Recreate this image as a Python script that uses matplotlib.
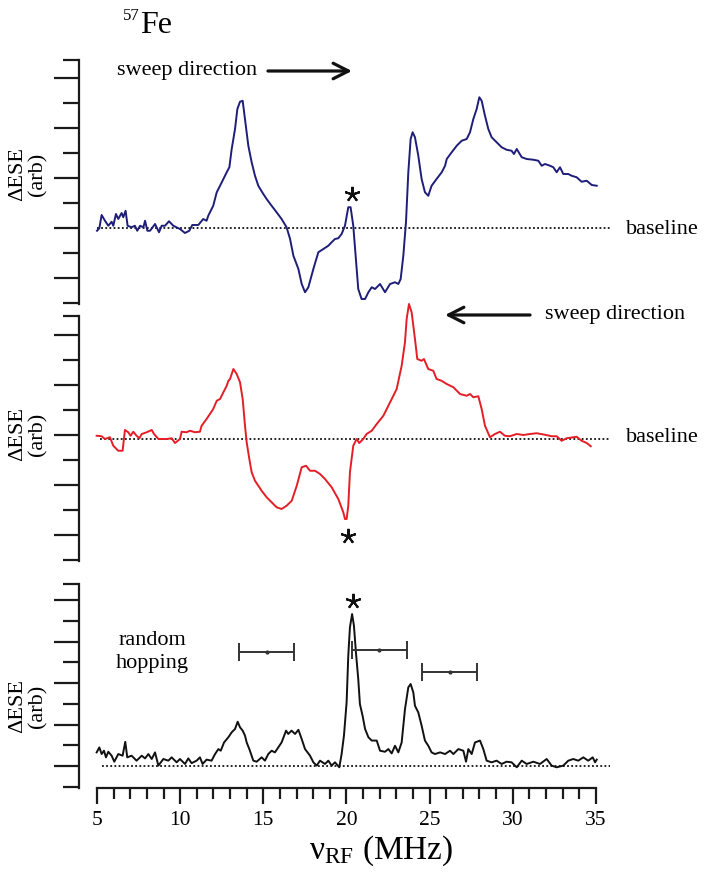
import matplotlib
matplotlib.use('Agg')
import matplotlib.pyplot as plt

plt.rcParams['font.family'] = ['Liberation Serif', 'DejaVu Serif']
plt.rcParams['mathtext.fontset'] = 'custom'
plt.rcParams['mathtext.rm'] = 'Liberation Serif'
plt.rcParams['mathtext.it'] = 'Liberation Serif:italic'

# ---------------- data (MHz, arbitrary units) ----------------
p1_x = [5.00, 5.14, 5.28, 5.48, 5.68, 5.88, 5.98, 6.14, 6.28, 6.48,
        6.58, 6.72, 6.84, 7.08, 7.28, 7.42, 7.59, 7.79, 7.89, 8.03,
        8.19, 8.49, 8.73, 8.89, 9.09, 9.33, 9.59, 9.99, 10.29, 10.55,
        10.73, 11.09, 11.39, 11.59, 11.69, 11.99, 12.20, 12.40, 12.60, 12.80,
        12.96, 13.10, 13.30, 13.44, 13.60, 13.76, 13.90, 14.10, 14.30, 14.50,
        14.70, 15.00, 15.20, 15.50, 15.80, 16.10, 16.40, 16.61, 16.81, 17.11,
        17.31, 17.51, 17.71, 18.01, 18.31, 18.61, 18.91, 19.11, 19.31, 19.51,
        19.71, 19.91, 20.11, 20.25, 20.41, 20.55, 20.71, 20.91, 21.12, 21.32,
        21.52, 21.72, 22.02, 22.32, 22.62, 22.92, 23.12, 23.26, 23.42, 23.58,
        23.72, 23.86, 23.98, 24.12, 24.32, 24.52, 24.72, 24.92, 25.12, 25.42,
        25.73, 25.93, 26.03, 26.33, 26.63, 26.93, 27.23, 27.43, 27.63, 27.83,
        27.99, 28.13, 28.33, 28.53, 28.73, 29.03, 29.33, 29.63, 29.93, 30.07,
        30.24, 30.54, 30.84, 31.24, 31.54, 31.74, 31.94, 32.24, 32.44, 32.64,
        32.84, 33.04, 33.34, 33.54, 33.84, 34.14, 34.45, 34.75, 35.05]
p1_y = [-0.11, -0.01, 0.52, 0.29, 0.09, 0.25, 0.09, 0.56, 0.36, 0.60,
        0.43, 0.69, 0.09, 0.03, 0.09, -0.11, 0.09, 0.03, 0.29, -0.11,
        -0.11, 0.16, -0.17, 0.09, 0.09, 0.27, 0.09, -0.04, -0.20, -0.11,
        0.12, 0.12, 0.36, 0.29, 0.49, 0.89, 1.43, 1.69, 1.96, 2.23,
        2.43, 3.16, 3.96, 4.76, 5.05, 5.09, 4.36, 3.29, 2.63, 2.09,
        1.69, 1.36, 1.16, 0.89, 0.63, 0.36, 0.03, -0.44, -1.11, -1.64,
        -2.24, -2.57, -2.37, -1.64, -0.97, -0.84, -0.71, -0.57, -0.44, -0.41,
        -0.24, 0.09, 0.83, 0.83, 0.09, -1.11, -2.44, -2.84, -2.84, -2.57,
        -2.37, -2.44, -2.24, -2.57, -2.24, -2.17, -2.24, -2.04, -1.11, 0.23,
        2.23, 3.56, 3.83, 3.63, 2.89, 1.96, 1.43, 1.29, 1.69, 1.96,
        2.23, 2.49, 2.76, 3.03, 3.29, 3.49, 3.56, 3.83, 4.36, 4.76,
        5.23, 5.09, 4.49, 3.96, 3.63, 3.43, 3.23, 3.13, 3.09, 2.96,
        3.16, 2.83, 2.76, 2.73, 2.69, 2.49, 2.56, 2.49, 2.43, 2.23,
        2.43, 2.16, 2.16, 2.09, 2.03, 1.85, 1.89, 1.72, 1.69]

p2_x = [4.98, 5.28, 5.48, 5.78, 5.98, 6.28, 6.54, 6.68, 6.88, 7.02,
        7.18, 7.38, 7.55, 7.69, 7.99, 8.29, 8.43, 8.69, 9.19, 9.49,
        9.69, 9.99, 10.09, 10.39, 10.59, 10.89, 11.19, 11.29, 11.59, 11.99,
        12.20, 12.40, 12.60, 12.80, 12.90, 13.00, 13.20, 13.40, 13.60, 13.76,
        13.90, 14.00, 14.16, 14.30, 14.50, 14.70, 14.90, 15.20, 15.50, 15.80,
        16.10, 16.40, 16.71, 17.01, 17.31, 17.57, 17.81, 18.11, 18.41, 18.71,
        19.11, 19.51, 19.81, 19.91, 20.01, 20.11, 20.21, 20.41, 20.61, 20.77,
        21.01, 21.21, 21.52, 21.82, 22.22, 22.52, 22.82, 23.02, 23.32, 23.52,
        23.62, 23.76, 23.92, 24.12, 24.26, 24.52, 24.66, 24.92, 25.22, 25.42,
        25.72, 26.03, 26.43, 26.83, 27.23, 27.43, 27.63, 27.93, 28.13, 28.33,
        28.63, 28.93, 29.23, 29.53, 29.83, 30.24, 30.64, 31.04, 31.44, 31.94,
        32.34, 32.64, 32.94, 33.24, 33.84, 34.14, 34.45, 34.69]
p2_y = [-0.03, -0.05, -0.16, -0.09, -0.43, -0.63, -0.63, 0.20, 0.11, -0.03,
        0.13, -0.03, -0.13, 0.04, 0.11, 0.20, 0.04, -0.16, -0.16, -0.13,
        -0.32, -0.16, 0.13, 0.11, 0.17, 0.11, 0.13, 0.37, 0.64, 1.04,
        1.37, 1.44, 1.71, 1.97, 2.17, 2.24, 2.64, 2.44, 2.11, 1.44,
        0.37, -0.29, -0.96, -1.49, -1.83, -2.03, -2.23, -2.49, -2.69, -2.89,
        -2.96, -2.83, -2.63, -2.03, -1.29, -1.23, -1.43, -1.43, -1.56, -1.76,
        -2.09, -2.56, -3.09, -3.36, -3.36, -2.83, -1.49, -0.43, -0.16, -0.32,
        -0.16, 0.04, 0.17, 0.44, 0.77, 1.17, 1.57, 1.84, 2.77, 3.71,
        4.64, 5.24, 4.91, 3.84, 3.04, 2.97, 3.04, 2.64, 2.57, 2.24,
        2.17, 2.04, 1.91, 1.64, 1.57, 1.64, 1.51, 1.55, 1.04, 0.37,
        -0.09, 0.04, 0.13, -0.03, -0.05, 0.04, 0.00, 0.04, 0.07, 0.01,
        -0.05, -0.05, -0.23, -0.13, -0.07, -0.23, -0.32, -0.45]

p3_x = [4.98, 5.14, 5.28, 5.42, 5.54, 5.68, 5.88, 6.04, 6.28, 6.54,
        6.70, 6.82, 7.08, 7.38, 7.69, 7.89, 8.09, 8.29, 8.49, 8.69,
        8.99, 9.29, 9.49, 9.79, 9.99, 10.29, 10.49, 10.69, 10.99, 11.19,
        11.35, 11.59, 11.89, 12.10, 12.30, 12.44, 12.64, 12.90, 13.10, 13.30,
        13.46, 13.60, 13.76, 13.90, 14.00, 14.16, 14.40, 14.60, 14.90, 15.10,
        15.30, 15.50, 15.70, 15.90, 16.10, 16.37, 16.50, 16.70, 16.91, 17.11,
        17.31, 17.51, 17.81, 18.01, 18.21, 18.41, 18.71, 18.91, 19.11, 19.31,
        19.57, 19.71, 19.85, 20.01, 20.11, 20.21, 20.34, 20.45, 20.57, 20.71,
        20.81, 20.97, 21.12, 21.32, 21.52, 21.82, 22.02, 22.32, 22.52, 22.72,
        22.92, 23.12, 23.32, 23.52, 23.72, 23.86, 24.02, 24.12, 24.32, 24.52,
        24.72, 24.92, 25.12, 25.32, 25.63, 25.93, 26.23, 26.43, 26.73, 27.03,
        27.19, 27.33, 27.53, 27.73, 28.03, 28.23, 28.43, 28.73, 29.03, 29.33,
        29.63, 29.93, 30.24, 30.54, 30.84, 31.24, 31.64, 32.04, 32.34, 32.64,
        33.04, 33.34, 33.64, 33.94, 34.24, 34.54, 34.81, 34.95, 35.05]
p3_y = [0.66, 0.90, 0.58, 0.74, 0.42, 0.69, 0.50, 0.21, 0.58, 0.50,
        1.17, 0.42, 0.50, 0.26, 0.50, 0.37, 0.58, 0.34, 0.66, 0.02,
        0.34, 0.26, 0.42, 0.18, 0.34, 0.10, 0.37, 0.14, 0.26, 0.42,
        0.10, 0.31, 0.26, 0.58, 0.82, 0.74, 1.14, 1.39, 1.63, 1.79,
        2.14, 1.87, 1.71, 1.47, 1.14, 0.82, 0.26, 0.21, 0.42, 0.26,
        0.58, 0.74, 0.66, 0.90, 1.14, 1.71, 1.55, 1.71, 1.55, 1.75,
        1.30, 0.82, 0.50, 0.18, 0.02, 0.26, 0.10, 0.26, 0.02, 0.18,
        -0.06, 0.58, 1.47, 3.08, 5.33, 6.70, 7.34, 6.78, 5.49, 4.20,
        2.99, 2.43, 1.79, 1.39, 1.23, 1.23, 0.74, 0.69, 0.82, 0.61,
        0.98, 0.66, 1.14, 2.75, 3.80, 3.96, 3.56, 2.91, 2.59, 1.95,
        1.23, 0.98, 0.66, 0.58, 0.66, 0.58, 0.74, 0.58, 0.82, 0.74,
        0.21, 0.82, 0.58, 1.14, 1.23, 0.82, 0.26, 0.18, 0.26, 0.10,
        0.21, 0.18, -0.06, 0.26, 0.10, 0.21, 0.10, 0.34, 0.02, -0.06,
        0.02, 0.26, 0.34, 0.26, 0.42, 0.26, 0.42, 0.18, 0.31]

# random-hopping ranges (center, half width, height) in panel 3
hop_x = [15.20, 21.98, 26.20]
hop_err = [1.65, 1.65, 1.65]
hop_y = [5.51, 5.60, 4.54]

# baselines (level, start) for each panel
base_levels = [0.0, -0.16, 0.0]
base_starts = [5.0, 5.2, 5.28]
base_end = 35.85

# asterisk positions (x, y) per panel
star_pos = [(20.31, 1.36), (20.11, -4.03), (20.41, 7.99)]

x_major = [5, 10, 15, 20, 25, 30, 35]
x_minor = list(range(5, 36))

colors = ['#1e1e78', '#e41e26', '#111111']

# ---------------- figure ----------------
W, H = 704, 878
fig = plt.figure(figsize=(W / 100, H / 100), dpi=100)


def box(top, bottom, left=79, right=612):
    return [left / W, 1 - bottom / H, (right - left) / W, (bottom - top) / H]


def fx(x):
    return x / W


def fy(y):
    return 1 - y / H


ax1 = fig.add_axes(box(61, 305))
ax2 = fig.add_axes(box(317, 562))
ax3 = fig.add_axes(box(585, 789))
axes = [ax1, ax2, ax3]

specs = [
    ((-3.04, 6.72), [-2, 0, 2, 4, 6], [-3, -1, 1, 3, 5, 6.72]),
    ((-5.04, 4.76), [-4, -2, 0, 2, 4], [-5, -3, -1, 1, 3, 4.76]),
    ((-1.06, 8.79), [0, 2, 4, 6, 8], [-1, 1, 3, 5, 7, 8.79]),
]

XLIM = (3.918, 35.968)

for ax, (ylim, majors, minors) in zip(axes, specs):
    ax.set_xlim(*XLIM)
    ax.set_ylim(*ylim)
    ax.patch.set_visible(False)
    for s in ['top', 'right']:
        ax.spines[s].set_visible(False)
    ax.spines['left'].set_linewidth(1.6)
    ax.spines['left'].set_color('#1a1a1a')
    ax.set_yticks(majors)
    ax.set_yticks(minors, minor=True)
    ax.tick_params(axis='y', which='major', direction='out', length=18,
                   width=1.6, color='#1a1a1a', labelleft=False)
    ax.tick_params(axis='y', which='minor', direction='out', length=11.5,
                   width=1.6, color='#1a1a1a', labelleft=False)

for ax in (ax1, ax2):
    ax.spines['bottom'].set_visible(False)
    ax.tick_params(axis='x', which='both', bottom=False, labelbottom=False)

ax3.spines['bottom'].set_bounds(5, 35)
ax3.spines['bottom'].set_linewidth(1.6)
ax3.spines['bottom'].set_color('#1a1a1a')
ax3.set_xticks(x_major)
ax3.set_xticks(x_minor, minor=True)
ax3.tick_params(axis='x', which='major', direction='out', length=11.5,
                width=1.6, color='#1a1a1a', labelsize=15.5, pad=4)
ax3.tick_params(axis='x', which='minor', direction='out', length=8,
                width=1.6, color='#1a1a1a')

# baselines
for ax, lvl, st in zip(axes, base_levels, base_starts):
    ax.hlines(lvl, st, base_end, colors='#111111', linestyles=(0, (1, 1.3)),
              linewidth=1.3, zorder=1)

# curves
for ax, xs, ys, c in zip(axes, [p1_x, p2_x, p3_x], [p1_y, p2_y, p3_y], colors):
    ax.plot(xs, ys, color=c, lw=1.4, clip_on=False, zorder=3)

# asterisks
for ax, (sx, sy) in zip(axes, star_pos):
    ax.plot([sx], [sy], marker=(5, 2, 0), ms=11, mew=1.5, color='#111111',
            linestyle='none', clip_on=False)

# random hopping ranges
ax3.errorbar(hop_x, hop_y, xerr=hop_err, fmt='o', ms=2, color='#333333',
             ecolor='#333333', elinewidth=1.4, capsize=6.5, capthick=1.4,
             clip_on=False, zorder=4)

# arrows
arrow_kw = dict(arrowstyle='->,head_length=0.55,head_width=0.28', lw=2.3,
                color='#111111', mutation_scale=20, shrinkA=0, shrinkB=0)
ax1.annotate('', xy=(20.33, 6.28), xytext=(15.28, 6.28),
             arrowprops=arrow_kw, annotation_clip=False)
ax2.annotate('', xy=(25.93, 4.80), xytext=(31.04, 4.80),
             arrowprops=arrow_kw, annotation_clip=False)

# texts
fig.text(fx(123), fy(8), '57', fontsize=12, ha='left', va='top')
fig.text(fx(140), fy(33), 'Fe', fontsize=23, ha='left', va='baseline')

fig.text(fx(117), fy(70), 'sweep direction', fontsize=16, ha='left', va='center')
fig.text(fx(545), fy(315), 'sweep direction', fontsize=16, ha='left', va='center')
fig.text(fx(626), fy(229), 'baseline', fontsize=16, ha='left', va='center')
fig.text(fx(626), fy(438), 'baseline', fontsize=16, ha='left', va='center')
fig.text(fx(152), fy(645), 'random', fontsize=16, ha='center', va='baseline')
fig.text(fx(152), fy(668), 'hopping', fontsize=16, ha='center', va='baseline')

for yc in (174, 434, 706):
    fig.text(fx(28), fy(yc), 'ΔESE\n(arb)', fontsize=16, rotation=90,
             ha='center', va='center', multialignment='center', linespacing=1.05)

fig.text(fx(381), fy(851), r'ν$_{\mathrm{RF}}$ (MHz)', fontsize=24,
         ha='center', va='center')

fig.savefig('out.png', dpi=100)
